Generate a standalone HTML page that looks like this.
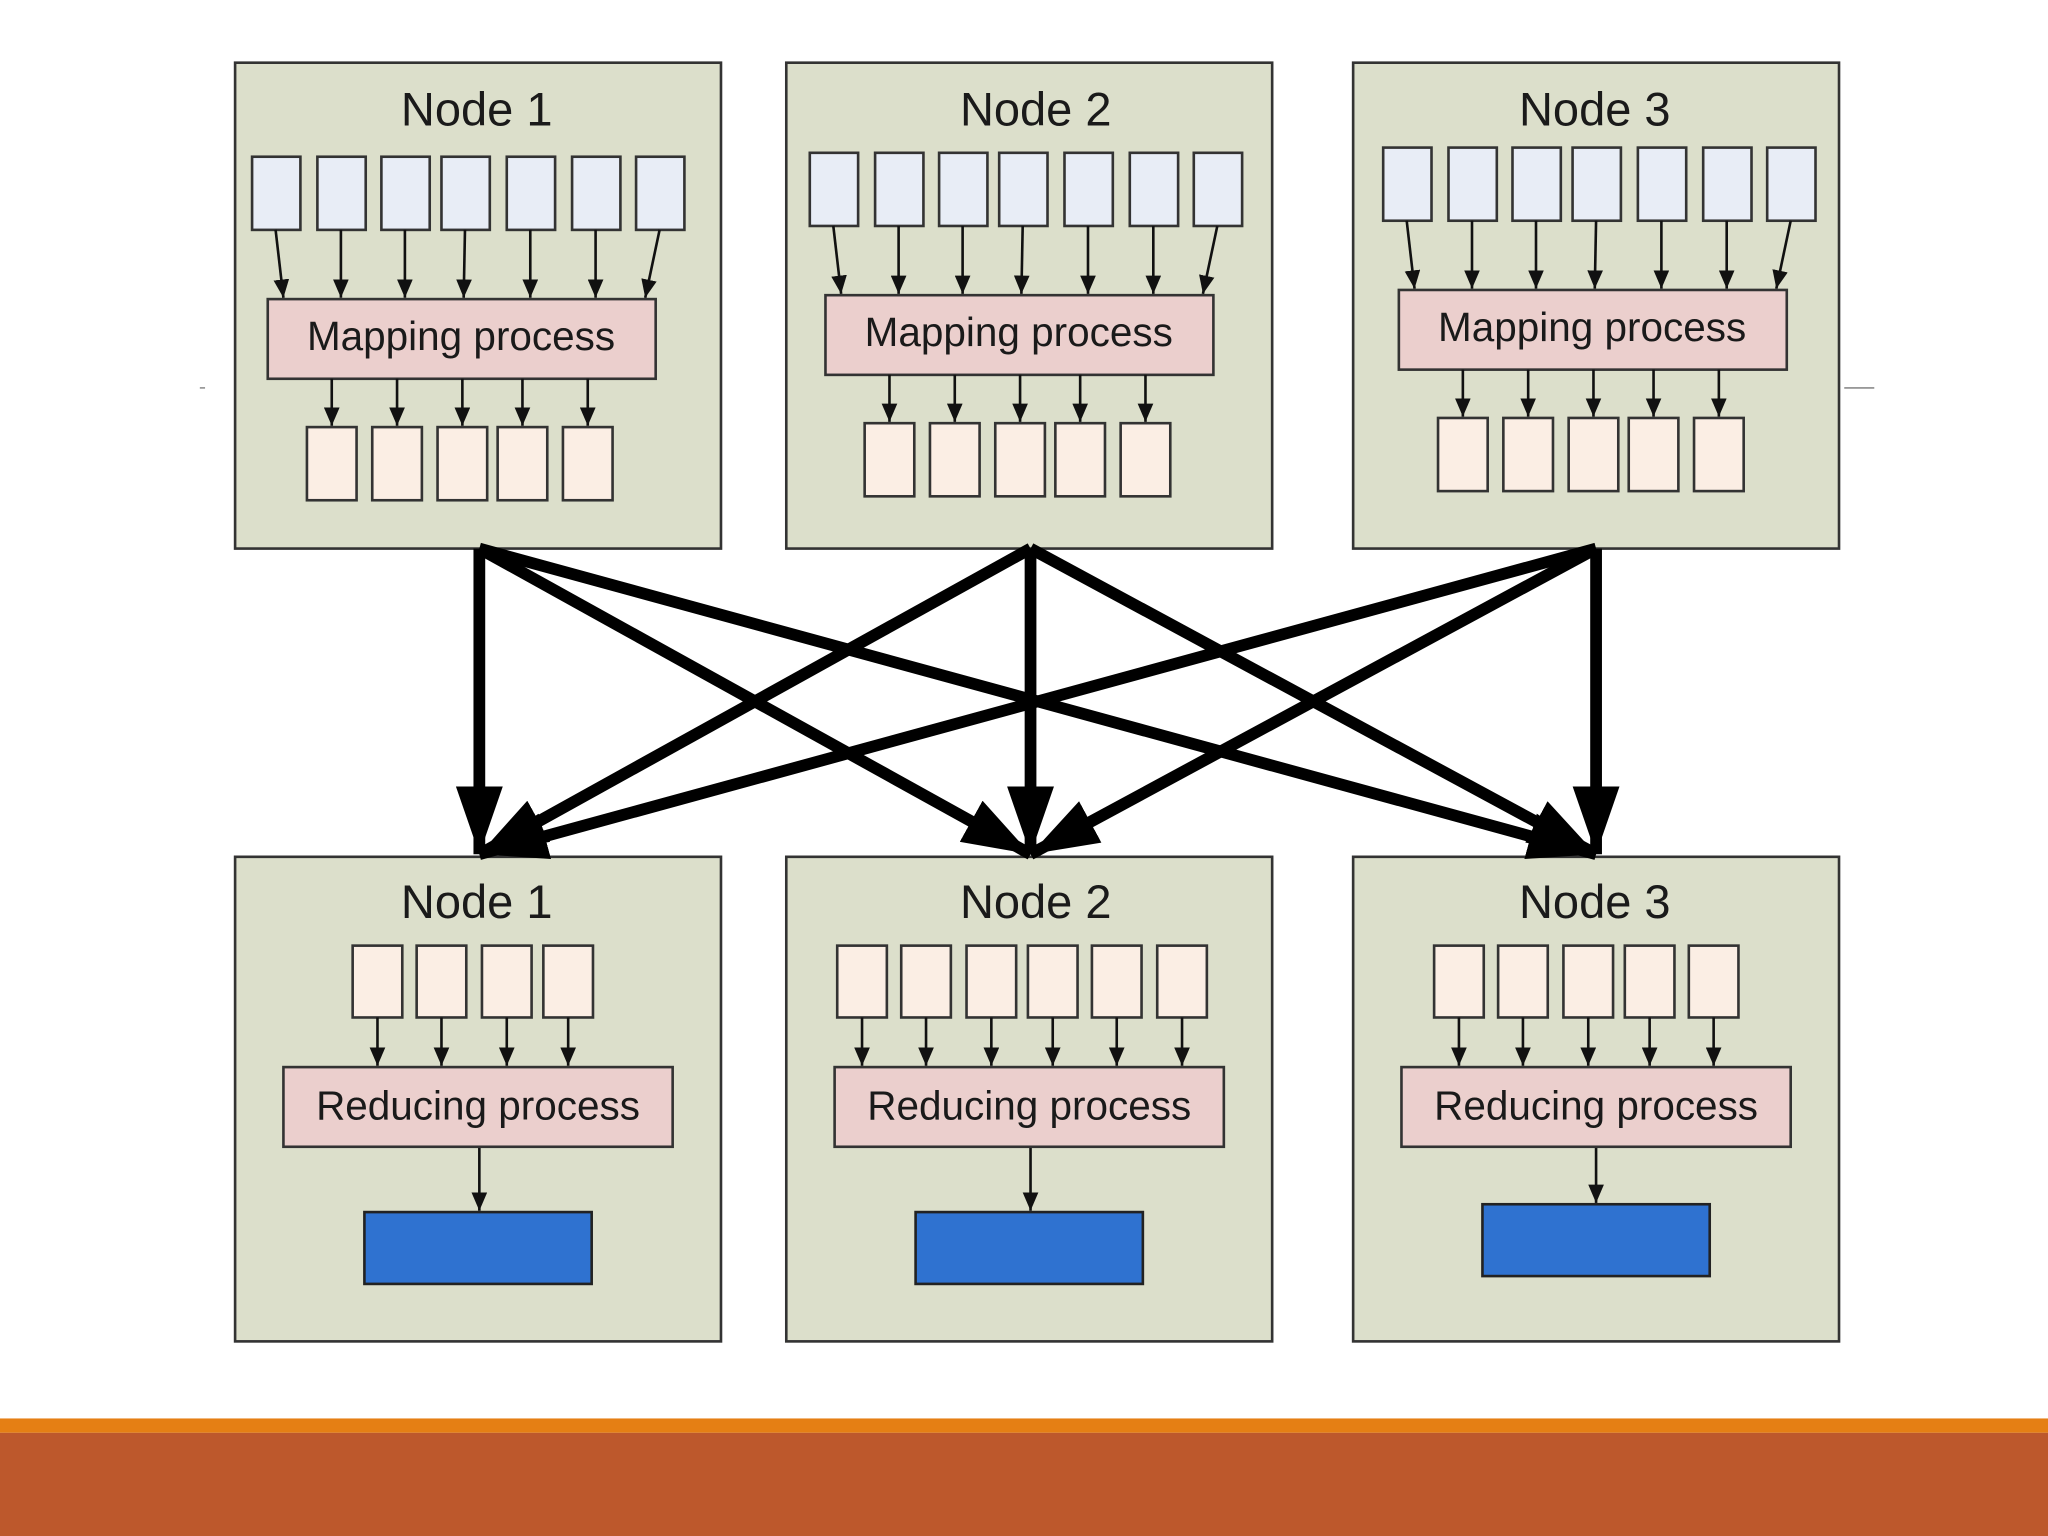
<!DOCTYPE html>
<html><head><meta charset="utf-8"><style>
html,body{margin:0;padding:0;background:#fff;width:2048px;height:1536px;overflow:hidden}
svg{display:block}
text{font-family:"Liberation Sans",sans-serif;fill:#1a1a1a}
</style></head><body>
<svg width="2048" height="1536" viewBox="0 0 1568 1176" xmlns="http://www.w3.org/2000/svg">
<defs>
<marker id="sa" markerUnits="userSpaceOnUse" markerWidth="14" markerHeight="12" refX="14" refY="6" orient="auto"><path d="M0,0 L14,6 L0,12 Z" fill="#111"/></marker>
<marker id="ba" markerUnits="userSpaceOnUse" markerWidth="52" markerHeight="36" refX="52" refY="18" orient="auto"><path d="M0,0 L52,18 L0,36 Z" fill="#000"/></marker>
<g id="top">
  <g fill="#e8edf6" stroke="#333" stroke-width="2">
    <rect x="193" y="120" width="37" height="56"/><rect x="243" y="120" width="37" height="56"/><rect x="292" y="120" width="37" height="56"/><rect x="338" y="120" width="37" height="56"/><rect x="388" y="120" width="37" height="56"/><rect x="438" y="120" width="37" height="56"/><rect x="487" y="120" width="37" height="56"/>
  </g>
  <g stroke="#111" stroke-width="2" marker-end="url(#sa)">
    <line x1="211" y1="176" x2="217" y2="228"/><line x1="261" y1="176" x2="261" y2="228"/><line x1="310" y1="176" x2="310" y2="228"/><line x1="356" y1="176" x2="355" y2="228"/><line x1="406" y1="176" x2="406" y2="228"/><line x1="456" y1="176" x2="456" y2="228"/><line x1="505" y1="176" x2="494" y2="228"/>
  </g>
  <rect x="205" y="229" width="297" height="61" fill="#ebcfcd" stroke="#333" stroke-width="2"/>
  <text x="353" y="268" font-size="31" text-anchor="middle">Mapping process</text>
  <g stroke="#111" stroke-width="2" marker-end="url(#sa)">
    <line x1="254" y1="290" x2="254" y2="326"/><line x1="304" y1="290" x2="304" y2="326"/><line x1="354" y1="290" x2="354" y2="326"/><line x1="400" y1="290" x2="400" y2="326"/><line x1="450" y1="290" x2="450" y2="326"/>
  </g>
  <g fill="#fbeee4" stroke="#333" stroke-width="2">
    <rect x="235" y="327" width="38" height="56"/><rect x="285" y="327" width="38" height="56"/><rect x="335" y="327" width="38" height="56"/><rect x="381" y="327" width="38" height="56"/><rect x="431" y="327" width="38" height="56"/>
  </g>
</g>
</defs>
<g fill="#dcdfcb" stroke="#333" stroke-width="2">
<rect x="180" y="48" width="372" height="372"/><rect x="602" y="48" width="372" height="372"/><rect x="1036" y="48" width="372" height="372"/>
</g>
<text x="365" y="96" font-size="36" text-anchor="middle">Node 1</text>
<text x="793" y="96" font-size="36" text-anchor="middle">Node 2</text>
<text x="1221" y="96" font-size="36" text-anchor="middle">Node 3</text>
<use href="#top"/>
<g transform="translate(427,-3)"><use href="#top"/></g>
<g transform="translate(866,-7)"><use href="#top"/></g>

<line x1="153" y1="297" x2="157" y2="297" stroke="#777" stroke-width="1"/>
<line x1="1412" y1="297" x2="1435" y2="297" stroke="#777" stroke-width="1"/>

<g fill="#dcdfcb" stroke="#333" stroke-width="2">
<rect x="180" y="656" width="372" height="371"/><rect x="602" y="656" width="372" height="371"/><rect x="1036" y="656" width="372" height="371"/>
</g>
<text x="365" y="703" font-size="36" text-anchor="middle">Node 1</text>
<text x="793" y="703" font-size="36" text-anchor="middle">Node 2</text>
<text x="1221" y="703" font-size="36" text-anchor="middle">Node 3</text>
<g fill="#fbeee4" stroke="#333" stroke-width="2">
<rect x="270" y="724" width="38" height="55"/><rect x="319" y="724" width="38" height="55"/><rect x="369" y="724" width="38" height="55"/><rect x="416" y="724" width="38" height="55"/>
<rect x="641" y="724" width="38" height="55"/><rect x="690" y="724" width="38" height="55"/><rect x="740" y="724" width="38" height="55"/><rect x="787" y="724" width="38" height="55"/><rect x="836" y="724" width="38" height="55"/><rect x="886" y="724" width="38" height="55"/>
<rect x="1098" y="724" width="38" height="55"/><rect x="1147" y="724" width="38" height="55"/><rect x="1197" y="724" width="38" height="55"/><rect x="1244" y="724" width="38" height="55"/><rect x="1293" y="724" width="38" height="55"/>
</g>
<g stroke="#111" stroke-width="2" marker-end="url(#sa)">
<line x1="289" y1="779" x2="289" y2="816"/><line x1="338" y1="779" x2="338" y2="816"/><line x1="388" y1="779" x2="388" y2="816"/><line x1="435" y1="779" x2="435" y2="816"/>
<line x1="660" y1="779" x2="660" y2="816"/><line x1="709" y1="779" x2="709" y2="816"/><line x1="759" y1="779" x2="759" y2="816"/><line x1="806" y1="779" x2="806" y2="816"/><line x1="855" y1="779" x2="855" y2="816"/><line x1="905" y1="779" x2="905" y2="816"/>
<line x1="1117" y1="779" x2="1117" y2="816"/><line x1="1166" y1="779" x2="1166" y2="816"/><line x1="1216" y1="779" x2="1216" y2="816"/><line x1="1263" y1="779" x2="1263" y2="816"/><line x1="1312" y1="779" x2="1312" y2="816"/>
<line x1="367" y1="878" x2="367" y2="927"/><line x1="789" y1="878" x2="789" y2="927"/><line x1="1222" y1="878" x2="1222" y2="921"/>
</g>
<g fill="#ebcfcd" stroke="#333" stroke-width="2">
<rect x="217" y="817" width="298" height="61"/><rect x="639" y="817" width="298" height="61"/><rect x="1073" y="817" width="298" height="61"/>
</g>
<text x="366" y="857" font-size="31" text-anchor="middle">Reducing process</text>
<text x="788" y="857" font-size="31" text-anchor="middle">Reducing process</text>
<text x="1222" y="857" font-size="31" text-anchor="middle">Reducing process</text>
<g fill="#2f72d0" stroke="#222" stroke-width="2">
<rect x="279" y="928" width="174" height="55"/><rect x="701" y="928" width="174" height="55"/><rect x="1135" y="922" width="174" height="55"/>
</g>

<g stroke="#000" stroke-width="9" marker-end="url(#ba)">
<line x1="367" y1="420" x2="367" y2="654"/>
<line x1="367" y1="420" x2="789" y2="654"/>
<line x1="367" y1="420" x2="1222" y2="654"/>
<line x1="789" y1="420" x2="367" y2="654"/>
<line x1="789" y1="420" x2="789" y2="654"/>
<line x1="789" y1="420" x2="1222" y2="654"/>
<line x1="1222" y1="420" x2="367" y2="654"/>
<line x1="1222" y1="420" x2="789" y2="654"/>
<line x1="1222" y1="420" x2="1222" y2="654"/>
</g>

<rect x="0" y="1086" width="1568" height="11" fill="#e57f14"/>
<rect x="0" y="1097" width="1568" height="79" fill="#bd582c"/>
</svg>
</body></html>
